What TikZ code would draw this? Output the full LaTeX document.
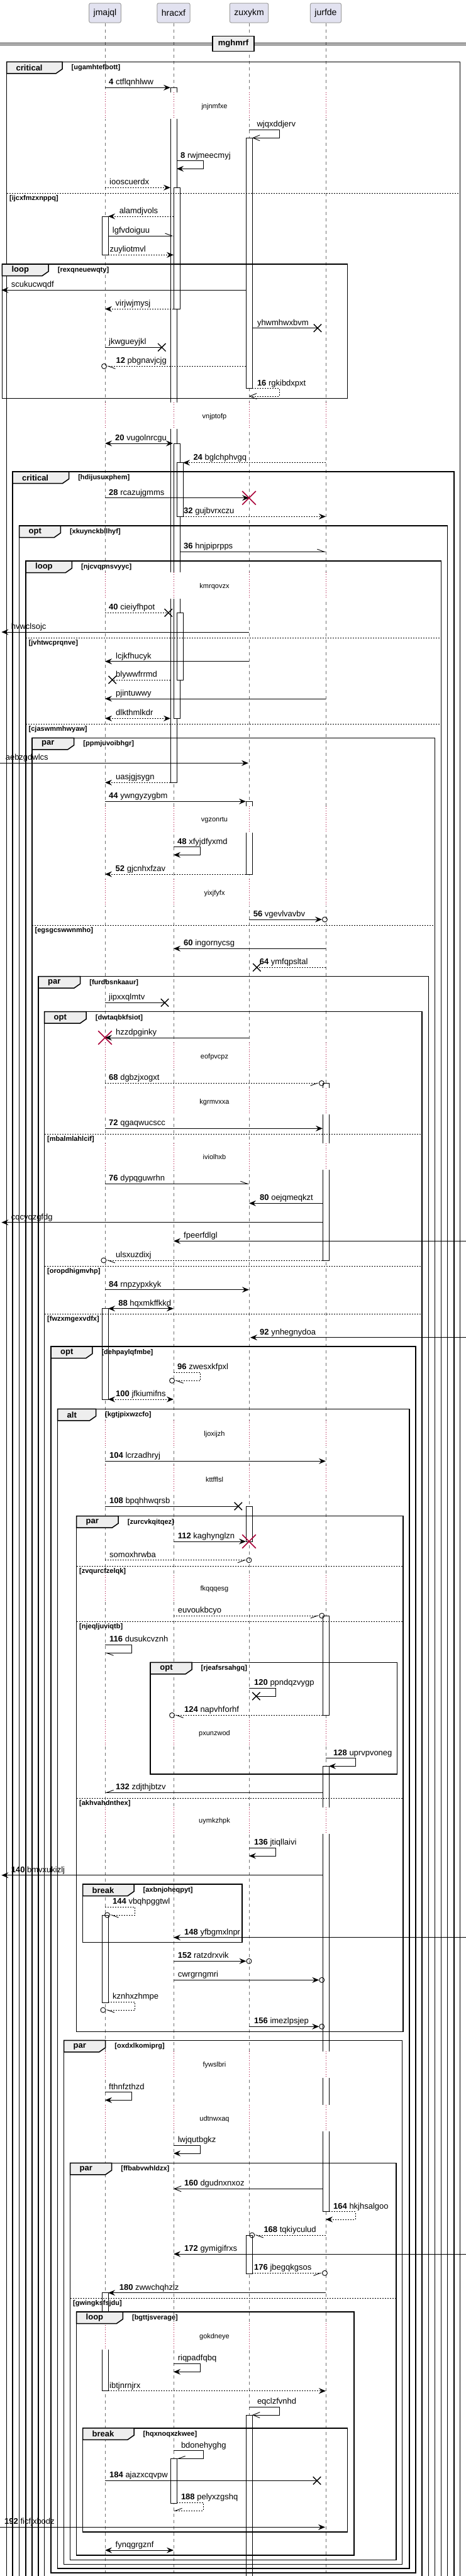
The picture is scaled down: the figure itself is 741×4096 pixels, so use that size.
\documentclass[tikz,border=0pt]{standalone}
\usepackage{fontspec}
\setmainfont{Liberation Sans}
\usetikzlibrary{arrows.meta,shapes.misc}
\definecolor{PumlCrimson}{HTML}{A80036}
\definecolor{PumlLife}{HTML}{707070}
\definecolor{PumlHead}{HTML}{E2E2F0}
\definecolor{PumlBorder}{HTML}{A0A0A0}
\definecolor{PumlTab}{HTML}{EEEEEE}

\tikzset{
  partbox/.style={draw=PumlBorder, fill=PumlHead, rounded corners=2.5pt, line width=1pt,
    minimum height=31pt, inner xsep=7pt, font=\fontsize{14}{16}\selectfont},
  lifeline/.style={PumlLife, line width=0.8pt, dash pattern=on 5pt off 5pt},
  delayline/.style={PumlCrimson, line width=0.8pt, dash pattern=on 1pt off 2.6pt},
  dlylbl/.style={inner sep=0pt, font=\fontsize{11}{13}\selectfont},
  actbar/.style={draw=black, fill=white, line width=0.8pt},
  divline/.style={black, line width=1pt},
  divbox/.style={draw=black, fill=PumlTab, line width=1.5pt, minimum height=24pt,
    inner xsep=9pt, font=\bfseries\fontsize{13}{15}\selectfont},
  grpbox/.style={draw=black, line width=1.5pt},
  grptab/.style={draw=black, fill=PumlTab, line width=1.5pt},
  grpkey/.style={anchor=west, inner sep=0pt, font=\bfseries\fontsize{13}{15}\selectfont},
  grpcond/.style={anchor=west, inner sep=0pt, font=\bfseries\fontsize{11}{13}\selectfont},
  grpelse/.style={black, line width=1pt, dash pattern=on 2pt off 2pt},
  msgline/.style={black, line width=0.9pt},
  msglbl/.style={anchor=base west, inner sep=0pt, font=\fontsize{13}{15}\selectfont},
  dsh/.style={dash pattern=on 2pt off 2pt},
  tofill/.style={-{Stealth[length=11pt,width=9pt,inset=4pt]}},
  bothfill/.style={{Stealth[length=11pt,width=9pt,inset=4pt]}-{Stealth[length=11pt,width=9pt,inset=4pt]}},
  tobarb/.style={-{Straight Barb[length=11pt,width=9pt]}},
  toharpl/.style={-{Straight Barb[left,length=11pt,width=8pt]}},
  toharpr/.style={-{Straight Barb[right,length=11pt,width=8pt]}},
  xmk/.style={cross out, draw=black, line width=1.4pt, minimum size=11pt, inner sep=0pt},
  dstr/.style={cross out, draw=PumlCrimson, line width=1.6pt, minimum size=20pt, inner sep=0pt},
  ocirc/.style={circle, draw=black, line width=0.9pt, minimum size=8pt, inner sep=0pt},
}

\newcommand{\seqmsg}[7][]{%
  \coordinate (#2a) at (#3,#5);
  \coordinate (#2b) at (#4,#5);
  \draw[msgline,#1] (#2a) -- (#2b);
  \node[msglbl] (#2t) at (#6,#5-4.5) {#7};
}
\newcommand{\seqself}[9][]{%
  \coordinate (#2a) at (#3,#5);
  \coordinate (#2c) at (#4,#5);
  \coordinate (#2d) at (#4,#6);
  \coordinate (#2b) at (#7,#6);
  \draw[msgline,#1] (#2a) -- (#2c) -- (#2d) -- (#2b);
  \node[msglbl] (#2t) at (#8,#5-4.5) {#9};
}
\newcommand{\seqgroup}[8]{%
  \draw[grpbox] (#2,#3) rectangle (#4,#5);
  \draw[grptab] (#2,#3) -- (#6,#3) -- (#6,#3+11.5) -- (#6-10,#3+18.5) -- (#2,#3+18.5) -- cycle;
  \node[grpkey] (#1k) at (#2+15,#3+9.5) {#7};
  \node[grpcond] (#1c) at (#6+14.5,#3+9.5) {[#8]};
}
\newcommand{\seqelse}[5]{%
  \draw[grpelse] (#2,#4) -- (#3,#4);
  \node[grpcond] (#1) at (#2+4.5,#4+8.5) {[#5]};
}
\newcommand{\seqdelay}[3]{%
  \foreach \lx in {167,276,396,518}{
    \fill[white] (\lx-7,#2-22.5) rectangle (\lx+16,#2+19.5);
    \draw[delayline] (\lx,#2-22.5) -- (\lx,#2+19.5);
  }
  \node[dlylbl] (#1) at (341,#2) {#3};
}

\begin{document}
\begin{tikzpicture}[x=1pt,y=-1pt]
\useasboundingbox (0,0) rectangle (741,4096);
\clip (0,0) rectangle (741,4096);

\node[partbox] (jmajql) at (167,20.5) {jmajql};
\node[partbox] (hracxf) at (276,20.5) {hracxf};
\node[partbox] (zuxykm) at (396,20.5) {zuxykm};
\node[partbox] (jurfde) at (518,20.5) {jurfde};
\foreach \p in {jmajql,hracxf,zuxykm,jurfde}
  \draw[lifeline] (\p.south) -- (\p.south |- 0,4120);

\foreach \bx/\ba/\bb in {276/139.3/1244.3, 281/298.3/491.3, 396/219.3/617.7, 167/344/405.3,
    281/705/1142.3, 286/735.7/821.3, 286/974.3/1081, 396/1274.3/1390, 518/1722.3/2004,
    167/2080.7/2225, 396/2395/2451, 518/2569/2727.3, 518/2808.3/3516.7, 167/3045/3184,
    396/3554/3615.3, 167/3645.7/3801.7, 396/3840/4200, 276/3909.3/3980}
  \draw[actbar] (\bx-5,\ba) rectangle (\bx+5,\bb);

\seqdelay{d1}{169.3}{jnjnmfxe}
\seqdelay{d2}{662.3}{vnjptofp}
\seqdelay{d3}{932.3}{kmrqovzx}
\seqdelay{d4}{1304.3}{vgzonrtu}
\seqdelay{d5}{1420.3}{yixjfyfx}
\seqdelay{d6}{1680.3}{eofpvcpz}
\seqdelay{d7}{1752.3}{kgrmvxxa}
\seqdelay{d8}{1840}{iviolhxb}
\seqdelay{d9}{2281}{ljoxijzh}
\seqdelay{d10}{2352.7}{kttfflsl}
\seqdelay{d11}{2527}{fkqqqesg}
\seqdelay{d12}{2757}{pxunzwod}
\seqdelay{d13}{2896}{uymkzhpk}
\seqdelay{d14}{3284}{fywslbri}
\seqdelay{d15}{3369.3}{udtnwxaq}
\seqdelay{d16}{3716}{gokdneye}

\draw[divline] (0,68.3) -- (741,68.3) (0,71.7) -- (741,71.7);
\node[divbox] (mghmrf) at (371,69.5) {mghmrf};

\seqgroup{f1}{10.5}{98.3}{731.5}{4200}{99}{critical}{ugamhtefbott}
\seqelse{f1e1}{10.5}{731.5}{307}{ijcxfmzxnppq}
\seqgroup{f2}{3.3}{420}{552.7}{633.3}{77.2}{loop}{rexqneuewqty}
\seqgroup{f3}{20}{750}{722}{4200}{109.6}{critical}{hdijusuxphem}
\seqgroup{f4}{30.5}{836}{711.4}{4200}{96.3}{opt}{xkuynckbllhyf}
\seqgroup{f5}{41}{892}{701.4}{4200}{114.4}{loop}{njcvqpnsvyyc}
\seqelse{f5e1}{41}{701.4}{1014}{jvhtwcprqnve}
\seqelse{f5e2}{41}{701.4}{1151.3}{cjaswmmhwyaw}
\seqgroup{f6}{51}{1173.3}{691.4}{4200}{117.7}{par}{ppmjuvoibhgr}
\seqelse{f6e1}{51}{691.4}{1471}{egsgcswwnmho}
\seqgroup{f7}{61}{1552.7}{681.4}{4200}{127.7}{par}{furdbsnkaaur}
\seqgroup{f8}{70.5}{1608.7}{671}{4200}{137.2}{opt}{dwtaqbkfsiot}
\seqelse{f8e1}{70.5}{671}{1803}{mbalmlahlcif}
\seqelse{f8e2}{70.5}{671}{2013.3}{oropdhigmvhp}
\seqelse{f8e3}{70.5}{671}{2089.3}{fwzxmgexvdfx}
\seqgroup{f9}{81}{2141}{661}{4091}{146.8}{opt}{dehpaylqfmbe}
\seqgroup{f10}{91.5}{2240.3}{651}{4084}{152.5}{alt}{kgtjpixwzcfo}
\seqgroup{f11}{121.5}{2410.7}{641}{3230.3}{188.2}{par}{zurcvkqitqez}
\seqelse{f11e1}{121.5}{641}{2490}{zvqurcfzelqk}
\seqelse{f11e2}{121.5}{641}{2578.3}{njeqljuviqtb}
\seqelse{f11e3}{121.5}{641}{2859.3}{akhvahdnthex}
\seqgroup{f12}{239.2}{2643.3}{631.4}{2821}{305}{opt}{rjeafsrsahgq}
\seqgroup{f13}{131.5}{2996}{385}{3088.3}{213}{break}{axbnjoheqpyt}
\seqgroup{f14}{101.5}{3244.3}{639.5}{4077.3}{167.7}{par}{oxdxlkomiprg}
\seqgroup{f15}{111.5}{3439.3}{630}{4070.3}{177.7}{par}{ffbabvwhldzx}
\seqelse{f15e1}{111.5}{630}{3654.3}{gwingksfsjdu}
\seqgroup{f16}{121.5}{3676}{563.2}{4062.7}{195.4}{loop}{bgttjsverage}
\seqgroup{f17}{131.5}{3860.7}{552.7}{4026}{213}{break}{hqxnoqxzkwee}

\seqmsg[tofill]{m1}{167}{271}{139.3}{173}{\textbf{4} ctflqnhlww}
\seqself[tobarb]{m2}{396}{444}{206.3}{219.3}{401}{408.4}{wjqxddjerv}
\seqself[tofill]{m3}{281}{323}{255.7}{268.3}{281}{287}{\textbf{8} rwjmeecmyj}
\seqmsg[dsh,tofill]{m4}{167}{271}{298.3}{174}{iooscuerdx}
\seqmsg[dsh,tofill]{m5}{276}{172}{344}{189.6}{alamdjvols}
\seqmsg[toharpl]{m6}{172}{276}{375}{178.7}{lgfvdoiguu}
\seqmsg[dsh,tofill]{m7}{172}{276}{405.3}{174.4}{zuyliotmvl}
\seqmsg[tofill]{m8}{391}{2.4}{461.3}{17.6}{scukucwqdf}
\seqmsg[dsh,tofill]{m9}{276}{167}{491.3}{183.5}{virjwjmysj}
\seqmsg{m10}{401}{505}{521.7}{408.8}{yhwmhwxbvm}
\node[xmk] (m10x) at (m10b) {};
\seqmsg{m11}{167}{257.3}{552.3}{173}{jkwgueyjkl}
\node[xmk] (m11x) at (m11b) {};
\seqmsg[dsh,toharpl]{m12}{391}{170}{582.3}{184.4}{\textbf{12} pbgnavjcjg}
\node[ocirc,anchor=east] (m12o) at (m12b) {};
\seqself[dsh,tobarb]{m13}{401}{444}{617.7}{630}{396}{408.8}{\textbf{16} rgkibdxpxt}
\seqmsg[bothfill]{m14}{167}{275}{705}{183}{\textbf{20} vugolnrcgu}
\seqmsg[dsh,tofill]{m15}{518}{291}{735.7}{307.3}{\textbf{24} bglchphvgq}
\seqmsg[tofill]{m16}{167}{396}{791.7}{173}{\textbf{28} rcazujgmms}
\node[dstr] (m16x) at (m16b) {};
\seqmsg[dsh,tofill]{m17}{291}{518}{821.3}{292}{\textbf{32} gujbvrxczu}
\seqmsg[toharpl]{m18}{286}{518}{877.3}{292}{\textbf{36} hnjpiprpps}
\seqmsg[dsh]{m19}{167}{267.8}{974.3}{173}{\textbf{40} cieiyfhpot}
\node[xmk] (m19x) at (m19b) {};
\seqmsg[tofill]{m20}{396}{2.4}{1005}{17.6}{hvwclsojc}
\seqmsg[tofill]{m21}{396}{167}{1051.7}{184}{lcjkfhucyk}
\seqmsg[dsh]{m22}{271}{178.7}{1081}{184}{blywwfrrmd}
\node[xmk] (m22x) at (m22b) {};
\seqmsg[tofill]{m23}{518}{167}{1111}{184}{pjintuwwy}
\seqmsg[dsh,bothfill]{m24}{167}{271}{1142.3}{184}{dlkthmlkdr}
\seqmsg[tofill]{m25}{0}{395}{1213.3}{8.6}{aebzgdwlcs}
\seqmsg[dsh,tofill]{m26}{271}{167}{1244.3}{184}{uasjgjsygn}
\seqmsg[tofill]{m27}{167}{391}{1274.3}{173}{\textbf{44} ywngyzygbm}
\seqself[tofill]{m28}{276}{318.3}{1346.7}{1359.3}{276}{282}{\textbf{48} xfyjdfyxmd}
\seqmsg[dsh,tofill]{m29}{391}{167}{1390}{183.5}{\textbf{52} gjcnhxfzav}
\seqmsg[tofill]{m30}{396}{512}{1462}{402.6}{\textbf{56} vgevlvavbv}
\node[ocirc,anchor=west] (m30o) at (m30b) {};
\seqmsg[tofill]{m31}{518}{276}{1508.3}{292}{\textbf{60} ingornycsg}
\seqmsg[dsh]{m32}{518}{408.4}{1538.3}{412.6}{\textbf{64} ymfqpsltal}
\node[xmk] (m32x) at (m32b) {};
\seqmsg{m33}{167}{262}{1594.3}{173}{jipxxqlmtv}
\node[xmk] (m33x) at (m33b) {};
\seqmsg[tofill]{m34}{396}{167}{1650}{184}{hzzdpginky}
\node[dstr] (m34x) at (m34b) {};
\seqmsg[dsh,toharpr]{m35}{167}{507}{1722.3}{173}{\textbf{68} dgbzjxogxt}
\node[ocirc,anchor=west] (m35o) at (m35b) {};
\seqmsg[tofill]{m36}{167}{513}{1794.3}{173}{\textbf{72} qgaqwucscc}
\seqmsg[toharpl]{m37}{167}{396}{1882.3}{173}{\textbf{76} dypqguwrhn}
\seqmsg[tofill]{m38}{513}{396}{1913.3}{413}{\textbf{80} oejqmeqkzt}
\seqmsg[tofill]{m39}{513}{2.4}{1943.7}{17.6}{cqcyqzgfdg}
\seqmsg[tofill]{m40}{741}{276}{1973.3}{292}{fpeerfdlgl}
\seqmsg[dsh,toharpl]{m41}{513}{169.3}{2004}{184}{ulsxuzdixj}
\node[ocirc,anchor=east] (m41o) at (m41b) {};
\seqmsg[tofill]{m42}{167}{396}{2050.7}{173}{\textbf{84} rnpzypxkyk}
\seqmsg[bothfill]{m43}{172}{276}{2080.7}{188.2}{\textbf{88} hqxmkffkkd}
\seqmsg[tofill]{m44}{741}{398}{2126.7}{413}{\textbf{92} ynhegnydoa}
\seqself[dsh,toharpl]{m45}{276}{318.3}{2182.3}{2195.3}{278}{282}{\textbf{96} zwesxkfpxl}
\node[ocirc,anchor=east] (m45o) at (m45b) {};
\seqmsg[dsh,bothfill]{m46}{172}{276}{2225}{184}{\textbf{100} jfkiumifns}
\seqmsg[tofill]{m47}{167}{518}{2323.3}{174}{\textbf{104} lcrzadhryj}
\seqmsg{m48}{167}{378.8}{2395}{174}{\textbf{108} bpqhhwqrsb}
\node[xmk] (m48x) at (m48b) {};
\seqmsg[tofill]{m49}{276}{391}{2451}{282.6}{\textbf{112} kaghynglzn}
\node[dstr] (m49x) at (zuxykm.south |- m49b) {};
\seqmsg[dsh,toharpr]{m50}{167}{391.5}{2480.7}{174}{somoxhrwba}
\node[ocirc,anchor=west] (m50o) at (m50b) {};
\seqmsg[dsh,toharpr]{m51}{276}{507.3}{2569}{282.6}{euvoukbcyo}
\node[ocirc,anchor=west] (m51o) at (m51b) {};
\seqself[toharpl]{m52}{167}{209.2}{2615.3}{2628.3}{167}{174}{\textbf{116} dusukcvznh}
\seqself{m53}{396}{438.4}{2684.3}{2697}{407.4}{404}{\textbf{120} ppndqzvygp}
\node[xmk] (m53x) at (m53b) {};
\seqmsg[dsh,toharpl]{m54}{513}{278}{2727.3}{293}{\textbf{124} napvhforhf}
\node[ocirc,anchor=east] (m54o) at (m54b) {};
\seqself[tofill]{m55}{518}{565}{2795.7}{2808.3}{523}{530}{\textbf{128} uprvpvoneg}
\seqmsg[toharpr]{m56}{513}{167}{2850.3}{184}{\textbf{132} zdjthjbtzv}
\seqself[tofill]{m57}{396}{438.4}{2938.3}{2951}{396}{404}{\textbf{136} jtiqllaivi}
\seqmsg[tofill]{m58}{513}{2.4}{2981.7}{17.6}{\textbf{140} bmvxukizlj}
\seqself[dsh,toharpl]{m59}{167}{214.4}{3032.3}{3045}{175}{179}{\textbf{144} vbqhpggtwl}
\node[ocirc,anchor=east] (m59o) at (m59b) {};
\seqmsg[tofill]{m60}{741}{276}{3080.7}{293}{\textbf{148} yfbgmxlnpr}
\seqmsg[tofill]{m61}{276}{391.5}{3118.3}{282.6}{\textbf{152} ratzdrxvik}
\node[ocirc,anchor=west] (m61o) at (m61b) {};
\seqmsg[tofill]{m62}{276}{507.3}{3148.3}{282.6}{cwrgrngmri}
\node[ocirc,anchor=west] (m62o) at (m62b) {};
\seqself[dsh,toharpl]{m63}{172}{214.4}{3183.3}{3196}{168.4}{179}{kznhxzhmpe}
\node[ocirc,anchor=east] (m63o) at (m63b) {};
\seqmsg[tofill]{m64}{396}{507.3}{3222.3}{404}{\textbf{156} imezlpsjep}
\node[ocirc,anchor=west] (m64o) at (m64b) {};
\seqself[tofill]{m65}{167}{209.2}{3326.7}{3339.3}{167}{173}{fthnfzthzd}
\seqself[tofill]{m66}{276}{318.3}{3411}{3424}{276}{282.6}{lwjqutbgkz}
\seqmsg[tobarb]{m67}{513}{276}{3480.3}{293}{\textbf{160} dgudnxnxoz}
\seqself[dsh,tofill]{m68}{523}{565}{3516.7}{3529}{518}{530}{\textbf{164} hkjhsalgoo}
\seqmsg[dsh,toharpl]{m69}{518}{405.2}{3554}{419.3}{\textbf{168} tqkiyculud}
\node[ocirc,anchor=east] (m69o) at (m69b) {};
\seqmsg[tofill]{m70}{741}{276}{3584}{293}{\textbf{172} gymigifrxs}
\seqmsg[dsh,toharpr]{m71}{401}{512}{3614.3}{404}{\textbf{176} jbegqkgsos}
\node[ocirc,anchor=west] (m71o) at (m71b) {};
\seqmsg[tofill]{m72}{518}{172}{3645.7}{189.6}{\textbf{180} zwwchqhzlz}
\seqself[tofill]{m73}{276}{318.3}{3758.3}{3771.3}{276}{282.6}{riqpadfqbq}
\seqmsg[dsh,tofill]{m74}{172}{518}{3801.7}{174}{ibtjnrnjrx}
\seqself[tobarb]{m75}{396}{444}{3827.3}{3840}{401}{408.8}{eqclzfvnhd}
\seqself[toharpr]{m76}{276}{323}{3896.7}{3909.3}{281}{287.8}{bdonehyghg}
\seqmsg{m77}{167}{504}{3944.3}{174}{\textbf{184} ajazxcqvpw}
\node[xmk] (m77x) at (m77b) {};
\seqself[dsh,toharpr]{m78}{281}{323}{3979.3}{3992.3}{276}{287.8}{\textbf{188} pelyxzgshq}
\seqmsg[tofill]{m79}{0}{517}{4018.3}{7}{\textbf{192} ficfjxbodz}
\seqmsg[bothfill]{m80}{167}{276}{4055}{183.5}{fynqgrgznf}
\end{tikzpicture}
\end{document}
